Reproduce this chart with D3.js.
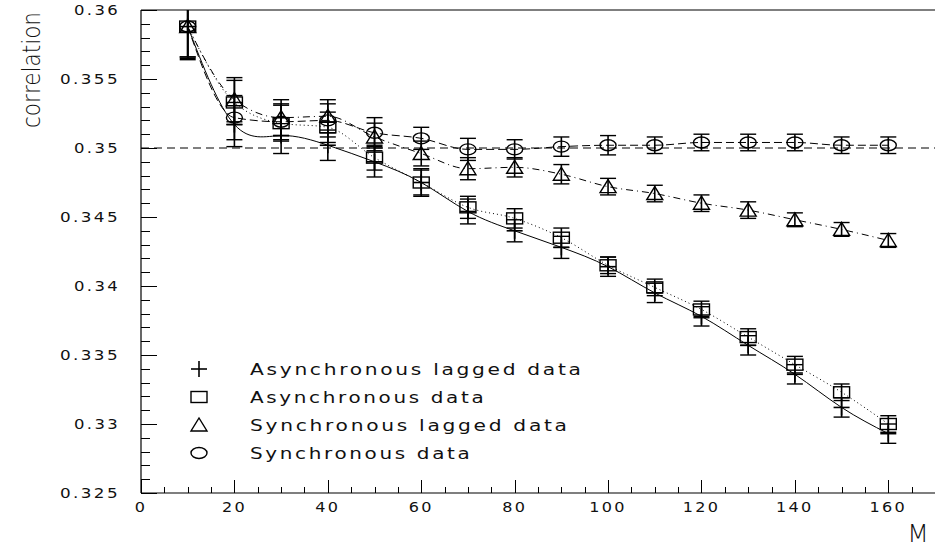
<!DOCTYPE html>
<html>
<head>
<meta charset="utf-8">
<script src="https://cdn.jsdelivr.net/npm/d3@7"></script>
<style>
body { margin: 0; background: #fff; }
svg text { font-family: "DejaVu Sans", sans-serif; font-weight: normal; fill: #111; letter-spacing: 2px; }
</style>
</head>
<body>
<svg width="935" height="548"></svg>
<script>
// window size M
var M = [10, 20, 30, 40, 50, 60, 70, 80, 90, 100, 110, 120, 130, 140, 150, 160];

// correlation values
var asyncLagged    = [0.3588, 0.3517, 0.3509, 0.3502, 0.3490, 0.3475, 0.3454, 0.3440, 0.3428, 0.3414, 0.3395, 0.3378, 0.3357, 0.3336, 0.3312, 0.3293];
var asyncLaggedErr = [0.0024, 0.0016, 0.0013, 0.0011, 0.0011, 0.0010, 0.0009, 0.0008, 0.0008, 0.0007, 0.0007, 0.0007, 0.0007, 0.0007, 0.0007, 0.0007];
var asyncData      = [0.3588, 0.3533, 0.3518, 0.3515, 0.3493, 0.3475, 0.3457, 0.3449, 0.3435, 0.3415, 0.3399, 0.3383, 0.3363, 0.3343, 0.3323, 0.3300];
var asyncDataErr   = [0.0022, 0.0016, 0.0013, 0.0011, 0.0009, 0.0009, 0.0008, 0.0007, 0.0007, 0.0006, 0.0006, 0.0006, 0.0006, 0.0006, 0.0006, 0.0006];
var syncLagged     = [0.3588, 0.3535, 0.3522, 0.3523, 0.3508, 0.3496, 0.3485, 0.3486, 0.3481, 0.3472, 0.3467, 0.3460, 0.3455, 0.3448, 0.3441, 0.3433];
var syncLaggedErr  = [0.0023, 0.0016, 0.0013, 0.0012, 0.0010, 0.0009, 0.0008, 0.0007, 0.0007, 0.0006, 0.0006, 0.0006, 0.0006, 0.0005, 0.0005, 0.0005];
var syncData       = [0.3588, 0.3522, 0.3519, 0.3520, 0.3511, 0.3507, 0.3499, 0.3499, 0.3501, 0.3502, 0.3502, 0.3504, 0.3504, 0.3504, 0.3502, 0.3502];
var syncDataErr    = [0.0022, 0.0016, 0.0013, 0.0012, 0.0011, 0.0008, 0.0008, 0.0007, 0.0007, 0.0007, 0.0006, 0.0006, 0.0006, 0.0006, 0.0006, 0.0006];

var refLevel = 0.35;

var xTicks = [0, 20, 40, 60, 80, 100, 120, 140, 160];
var xTickLabels = ["0", "20", "40", "60", "80", "100", "120", "140", "160"];
var yTicks = [0.325, 0.33, 0.335, 0.34, 0.345, 0.35, 0.355, 0.36];
var yTickLabels = ["0.325", "0.33", "0.335", "0.34", "0.345", "0.35", "0.355", "0.36"];

var legendLabels = ["Asynchronous lagged data", "Asynchronous data", "Synchronous lagged data", "Synchronous data"];

var svg = d3.select("svg"),
    pLeft = 141, pRight = 935, pTop = 10, pBottom = 493;

var x = d3.scaleLinear().domain([0, 170]).range([pLeft, pRight]);
var y = d3.scaleLinear().domain([0.325, 0.36]).range([pBottom, pTop]);

var series = [
  {vals: asyncLagged, err: asyncLaggedErr, marker: "plus",     dash: null,      curve: d3.curveNatural},
  {vals: asyncData,   err: asyncDataErr,   marker: "square",   dash: "1,3",     curve: d3.curveMonotoneX},
  {vals: syncLagged,  err: syncLaggedErr,  marker: "triangle", dash: "7,4,1,4", curve: d3.curveMonotoneX},
  {vals: syncData,    err: syncDataErr,    marker: "circle",   dash: "8,4",     curve: d3.curveMonotoneX}
];

svg.append("clipPath").attr("id", "plotclip")
  .append("rect").attr("x", pLeft).attr("y", pTop).attr("width", pRight - pLeft).attr("height", pBottom - pTop);

// frame
svg.append("line").attr("x1", pLeft).attr("x2", pRight).attr("y1", pTop).attr("y2", pTop)
  .attr("stroke", "#000").attr("stroke-width", 1.2);
svg.append("line").attr("x1", pLeft).attr("x2", pLeft).attr("y1", pTop).attr("y2", pBottom)
  .attr("stroke", "#000").attr("stroke-width", 1.2);
svg.append("line").attr("x1", pLeft).attr("x2", pRight).attr("y1", pBottom).attr("y2", pBottom)
  .attr("stroke", "#000").attr("stroke-width", 1.2);

// y ticks (inward)
var yMinor = d3.range(0, 36).map(function(i) { return 0.325 + i * 0.001; });
svg.append("g").selectAll("line").data(yMinor).enter().append("line")
  .attr("x1", pLeft).attr("y1", function(d) { return Math.round(y(d)) + 0.5; })
  .attr("y2", function(d) { return Math.round(y(d)) + 0.5; })
  .attr("x2", function(d, i) { return pLeft + (i % 5 == 0 ? 16 : 9); })
  .attr("stroke", "#000").attr("stroke-width", 1);

svg.append("g").selectAll("text").data(yTicks).enter().append("text")
  .attr("x", 120).attr("y", function(d) { return y(d) + 5; })
  .attr("text-anchor", "end")
  .attr("font-size", 14)
  .attr("textLength", function(d, i) { return yTickLabels[i].length == 4 ? 46 : 60; })
  .attr("lengthAdjust", "spacingAndGlyphs")
  .text(function(d, i) { return yTickLabels[i]; });

// x ticks (upward)
var xMinor = d3.range(0, 35).map(function(i) { return i * 5; });
svg.append("g").selectAll("line").data(xMinor).enter().append("line")
  .attr("x1", function(d) { return Math.round(x(d)) + 0.5; })
  .attr("x2", function(d) { return Math.round(x(d)) + 0.5; })
  .attr("y1", pBottom)
  .attr("y2", function(d) { return pBottom - (d % 20 == 0 ? 13 : 6); })
  .attr("stroke", "#000").attr("stroke-width", 1);

svg.append("g").selectAll("text").data(xTicks).enter().append("text")
  .attr("x", function(d) { return x(d); }).attr("y", 512)
  .attr("text-anchor", "middle")
  .attr("font-size", 14)
  .attr("textLength", function(d, i) { return xTickLabels[i].length * 12.5; })
  .attr("lengthAdjust", "spacingAndGlyphs")
  .text(function(d, i) { return xTickLabels[i]; });

// axis titles
svg.append("text").attr("transform", "translate(40,70) rotate(-90)")
  .attr("text-anchor", "middle").attr("font-size", 24)
  .style("letter-spacing", "0px")
  .style("font-weight", 200)
  .attr("textLength", 116)
  .attr("lengthAdjust", "spacingAndGlyphs")
  .text("correlation");
svg.append("text").attr("x", 918).attr("y", 542)
  .attr("text-anchor", "middle").attr("font-size", 25)
  .style("letter-spacing", "0px")
  .style("font-weight", 200)
  .text("M");

var plot = svg.append("g").attr("clip-path", "url(#plotclip)");

// reference level
plot.append("line").attr("x1", pLeft).attr("x2", pRight)
  .attr("y1", y(refLevel)).attr("y2", y(refLevel))
  .attr("stroke", "#000").attr("stroke-width", 1).attr("stroke-dasharray", "8,5");

series.forEach(function(s) {
  var line = d3.line()
    .x(function(d) { return x(d[0]); })
    .y(function(d) { return y(d[1]); })
    .curve(s.curve);
  plot.append("path")
    .datum(M.map(function(m, i) { return [m, s.vals[i]]; }))
    .attr("d", line)
    .attr("fill", "none").attr("stroke", "#000").attr("stroke-width", 1)
    .attr("stroke-dasharray", s.dash);
});

function drawMarker(g, type, cx, cy) {
  if (type == "plus") {
    g.append("line").attr("x1", cx - 8).attr("x2", cx + 8).attr("y1", cy).attr("y2", cy)
      .attr("stroke", "#000").attr("stroke-width", 1.6);
    g.append("line").attr("x1", cx).attr("x2", cx).attr("y1", cy - 8).attr("y2", cy + 8)
      .attr("stroke", "#000").attr("stroke-width", 1.6);
  } else if (type == "square") {
    g.append("rect").attr("x", cx - 8).attr("y", cy - 5.5).attr("width", 16).attr("height", 11)
      .attr("fill", "none").attr("stroke", "#000").attr("stroke-width", 1.4);
  } else if (type == "triangle") {
    g.append("path").attr("d", "M" + (cx - 8) + "," + (cy + 6) + "L" + (cx + 8) + "," + (cy + 6) + "L" + cx + "," + (cy - 7) + "Z")
      .attr("fill", "none").attr("stroke", "#000").attr("stroke-width", 1.4);
  } else {
    g.append("ellipse").attr("cx", cx).attr("cy", cy).attr("rx", 8).attr("ry", 5.5)
      .attr("fill", "none").attr("stroke", "#000").attr("stroke-width", 1.4);
  }
}

// error bars and markers
series.forEach(function(s) {
  var g = plot.append("g");
  M.forEach(function(m, i) {
    var cx = x(m), y1 = y(s.vals[i] + s.err[i]), y2 = y(s.vals[i] - s.err[i]);
    g.append("line").attr("x1", cx).attr("x2", cx).attr("y1", y1).attr("y2", y2)
      .attr("stroke", "#000").attr("stroke-width", 1.6);
    [y1, y2].forEach(function(yy) {
      g.append("line").attr("x1", cx - 8).attr("x2", cx + 8).attr("y1", yy).attr("y2", yy)
        .attr("stroke", "#000").attr("stroke-width", 1.4);
    });
    drawMarker(g, s.marker, cx, y(s.vals[i]));
  });
});

// legend
var legend = svg.append("g");
legendLabels.forEach(function(lbl, i) {
  var ly = 369 + i * 28;
  drawMarker(legend, series[i].marker, 199, ly);
  legend.append("text").attr("x", 250).attr("y", ly + 6)
    .attr("font-size", 15)
    .attr("textLength", lbl.length * 13.9)
    .attr("lengthAdjust", "spacingAndGlyphs")
    .text(lbl);
});
</script>
</body>
</html>
